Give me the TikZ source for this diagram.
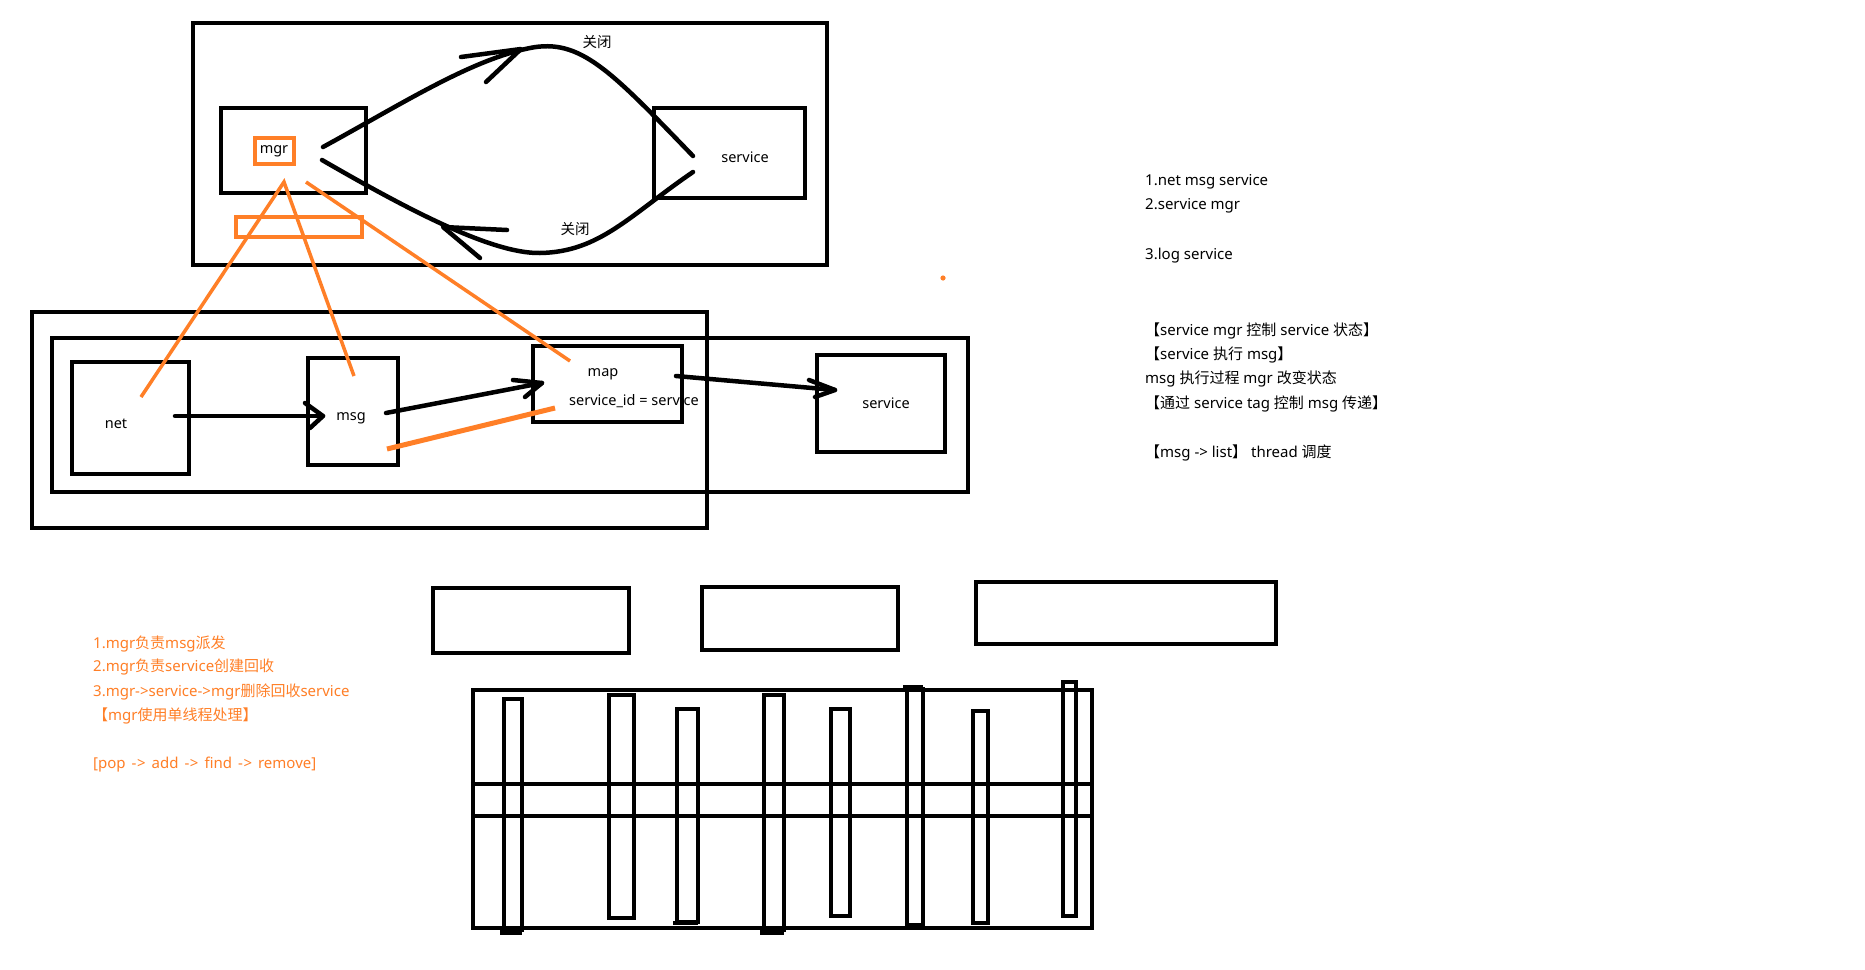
\documentclass[tikz,border=0pt]{standalone}
\usepackage{fontspec}
\setmainfont{Noto Sans}
\newfontfamily\cjk{Noto Sans CJK SC}
\usetikzlibrary{fit}
\definecolor{myorange}{RGB}{255,127,39}
\newcommand{\wsp}{\hspace{6pt}}
\newcommand{\rarr}{-\kern0.6pt>}
\begin{document}
\begin{tikzpicture}[x=1pt,y=-1pt,
  box/.style={draw, line width=4.5pt, inner sep=0pt},
  obox/.style={draw=myorange, line width=3.5pt, inner sep=0pt},
  bar/.style={draw, line width=4.3pt, inner sep=0pt},
  lbl/.style={font=\fontsize{14.5}{16}\selectfont, inner sep=0pt},
  note/.style={font=\fontsize{15}{17}\selectfont, inner sep=0pt, anchor=west},
  onote/.style={note, text=myorange},
  conn/.style={line width=4.5pt, line cap=round, line join=round},
  oline/.style={draw=myorange, line width=3.5pt},
  othick/.style={draw=myorange, line width=5pt}]
\useasboundingbox[fill=white] (0,0) rectangle (1865,969);

% ---------- top group ----------
\node[box, fit={(193,23) (827,265)}] (topouter) {};
\node[box, fit={(221,108) (366,193)}] (mgrbox) {};
\node[obox, fit={(255,138) (294,164)}] (mgrtag) {};
\node[lbl] (mgrtext) at (274,151) {mgr};
\node[obox, fit={(236,217) (362,237)}] (mgrqueue) {};
\node[box, fit={(654,108) (805,198)}] (svctop) {};
\node[lbl] (svctoptext) at (745,157) {service};
\node[lbl] (closeA) at (597,42) {\cjk 关闭};
\node[lbl] (closeB) at (575,229) {\cjk 关闭};

\coordinate (upS) at (323,147);
\coordinate (upE) at (693,156);
\coordinate (upTip) at (521,49);
\coordinate (upB1) at (461,57);
\coordinate (upB2) at (486,82);
\draw[conn] (upS) .. controls (400,105) and (470,60) .. (530,48)
            .. controls (580,38) and (610,70) .. (upE);
\draw[conn] (upB1) -- (upTip) -- (upB2);

\coordinate (loS) at (693,172);
\coordinate (loE) at (322,160);
\coordinate (loTip) at (443,227);
\coordinate (loB1) at (507,230);
\coordinate (loB2) at (480,258);
\draw[conn] (loS) .. controls (630,215) and (600,252) .. (540,253)
            .. controls (490,254) and (400,205) .. (loE);
\draw[conn] (loB1) -- (loTip) -- (loB2);

% ---------- middle group ----------
\node[box, fit={(32,312) (707,528)}] (midouter) {};
\node[box, fit={(52,338) (968,492)}] (midinner) {};
\node[box, fit={(72,362) (189,474)}] (netbox) {};
\node[lbl] (nettext) at (116,424) {net};
\node[box, fit={(308,358) (398,465)}] (msgbox) {};
\node[lbl] (msgtext) at (351,418) {msg};
\node[box, fit={(533,346) (682,422)}] (mapbox) {};
\node[lbl] (maptext) at (603,374) {map};
\node[lbl] (sidtext) at (634,401) {service\_id = service};
\node[box, fit={(817,355) (945,452)}] (svcmid) {};
\node[lbl] (svcmidtext) at (886,403) {service};

\coordinate (nmS) at (175,416);
\coordinate (nmT) at (323,416);
\draw[conn] (nmS) -- (nmT);
\draw[conn] (305,403) -- (nmT) -- (310,428);

\coordinate (mmS) at (386,413);
\coordinate (mmT) at (542,383);
\draw[conn] (mmS) -- (mmT);
\draw[conn] (513,380) -- (mmT) -- (525,397);

\coordinate (msS) at (676,376);
\coordinate (msT) at (835,390);
\draw[conn] (msS) -- (msT);
\draw[conn] (809,380) -- (msT) -- (815,397);

\coordinate (retS) at (387,449);
\coordinate (retE) at (555,408);
\draw[othick] (retS) -- (retE);

% orange links from mgr
\coordinate (apexA) at (284,182);
\coordinate (apexB) at (306,182);
\coordinate (toNet) at (141,397);
\coordinate (toMsg) at (354,376);
\coordinate (toMap) at (570,361);
\draw[oline] (toNet) -- (apexA) -- (toMsg);
\draw[oline] (apexB) -- (toMap);

\fill[myorange] (943,278) circle (2.6);

% ---------- notes ----------
\node[note] (n1) at (1145,182) {1.net msg service};
\node[note] (n2) at (1145,206) {2.service mgr};
\node[note] (n3) at (1145,256) {3.log service};
\node[note] (n4) at (1145,331) {{\cjk 【}service mgr {\cjk 控制} service {\cjk 状态】}};
\node[note] (n5) at (1145,355) {{\cjk 【}service {\cjk 执行} msg{\cjk 】}};
\node[note] (n6) at (1145,379) {msg {\cjk 执行过程} mgr {\cjk 改变状态}};
\node[note] (n7) at (1145,404) {{\cjk 【通过} service tag {\cjk 控制} msg {\cjk 传递】}};
\node[note] (n8) at (1145,453) {{\cjk 【}msg -> list{\cjk 】} thread {\cjk 调度}};

\node[onote] (o1) at (93,644) {1.mgr{\cjk 负责}msg{\cjk 派发}};
\node[onote] (o2) at (93,667) {2.mgr{\cjk 负责}service{\cjk 创建回收}};
\node[onote] (o3) at (93,692) {3.mgr->service->mgr{\cjk 删除回收}service};
\node[onote] (o4) at (93,716) {{\cjk 【}mgr{\cjk 使用单线程处理】}};
\node[onote] (o5) at (93,765) {[pop\wsp\rarr\wsp add\wsp\rarr\wsp find\wsp\rarr\wsp remove]};

% ---------- bottom group ----------
\node[box, fit={(433,588) (629,653)}] (slotA) {};
\node[box, fit={(702,587) (898,650)}] (slotB) {};
\node[box, fit={(976,582) (1276,644)}] (slotC) {};
\node[box, fit={(473,690) (1092,928)}] (grid) {};
\draw[line width=4.5pt] (grid.west |- 0,784) -- (grid.east |- 0,784);
\draw[line width=4.5pt] (grid.west |- 0,816) -- (grid.east |- 0,816);
\node[bar, fit={(504,699) (522,930)}] (v1) {};
\node[bar, fit={(609,695) (634,918)}] (v2) {};
\node[bar, fit={(677,709) (698,922)}] (v3) {};
\node[bar, fit={(764,695) (784,930)}] (v4) {};
\node[bar, fit={(831,709) (850,916)}] (v5) {};
\node[bar, fit={(907,689) (923,925)}] (v6) {};
\node[bar, fit={(973,711) (988,923)}] (v7) {};
\node[bar, fit={(1063,682) (1076,916)}] (v8) {};
% heavier hand-drawn caps
\fill (v1.south west) ++(-2,-3) rectangle ++(22,6);
\fill (v4.south west) ++(-2,-3) rectangle ++(24,6);
\fill (v3.south west) ++(-2,-3) rectangle ++(25,4);
\fill (v6.north west) ++(-2,-2) rectangle ++(20,4);
\end{tikzpicture}
\end{document}
